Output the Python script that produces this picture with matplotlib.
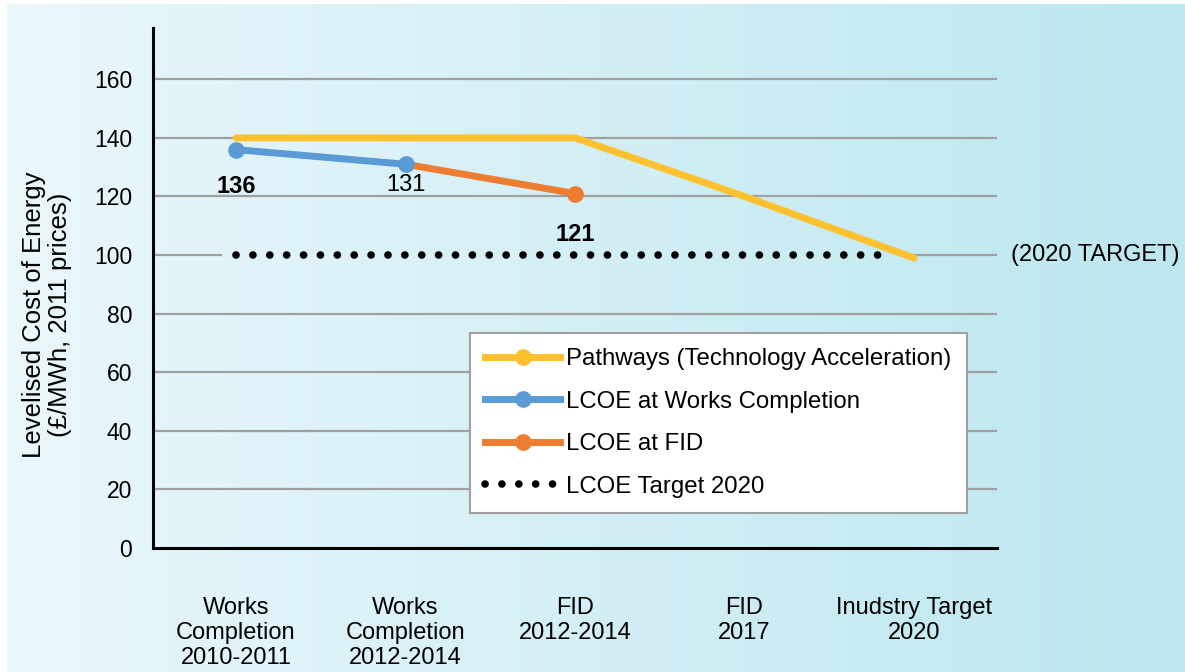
import numpy as np
import matplotlib
matplotlib.use('Agg')
import matplotlib.pyplot as plt
from matplotlib.lines import Line2D
from matplotlib.colors import LinearSegmentedColormap

plt.rcParams['font.family'] = ['Liberation Sans', 'DejaVu Sans']

# data
categories = ['Works\nCompletion\n2010-2011', 'Works\nCompletion\n2012-2014',
              'FID\n2012-2014', 'FID\n2017', 'Inudstry Target\n2020']
pathways = [140, 140, 140, 120, 99]
works_x = [0, 1]
works_vals = [136, 131]
fid_x = [1, 2]
fid_vals = [131, 121]
target_x = [0, 3.86]
target_vals = [100, 100]
yticks = [0, 20, 40, 60, 80, 100, 120, 140, 160]

c_yel = '#FDC02F'
c_blue = '#5B9BD5'
c_orng = '#ED7D31'
dots = (0, (0.01, 2.2))

fig = plt.figure(figsize=(11.85, 6.72), dpi=100)

# gradient background
bg = fig.add_axes([0.006, 0, 0.994, 0.994], zorder=-10)
cmap = LinearSegmentedColormap.from_list('bg', ['#eaf7fb', '#bce7ef'])
bg.imshow(np.linspace(0, 1, 256).reshape(1, -1), aspect='auto', cmap=cmap)
bg.axis('off')

ax = fig.add_axes([0.1291, 0.1845, 0.7123, 0.7738])
ax.patch.set_alpha(0)
ax.set_xlim(-0.49, 4.49)
ax.set_ylim(0, 177.5)

# grid lines (the 100 line is hidden behind the target dots)
for t in yticks:
    if t == 100:
        ax.hlines(t, -0.49, -0.08, color='#a0a0a0', lw=1.6, zorder=1)
        ax.hlines(t, 3.99, 4.49, color='#a0a0a0', lw=1.6, zorder=1)
    elif t > 0:
        ax.axhline(t, color='#a0a0a0', lw=1.6, zorder=1)

x = np.arange(len(categories))
ax.plot(x, pathways, color=c_yel, lw=5, solid_capstyle='round', zorder=3)
ax.plot(target_x, target_vals, color='black', lw=5.5,
        linestyle=dots, dash_capstyle='round', zorder=2)
ax.plot(fid_x, fid_vals, color=c_orng, lw=5, zorder=4)
ax.plot(fid_x[1:], fid_vals[1:], 'o', color=c_orng, ms=11, zorder=4)
ax.plot(works_x, works_vals, color=c_blue, lw=5, marker='o', ms=11, zorder=5)

ax.text(0, 123.5, '136', ha='center', va='center', fontsize=17, fontweight='bold')
ax.text(1, 124, '131', ha='center', va='center', fontsize=17)
ax.text(2, 107, '121', ha='center', va='center', fontsize=17, fontweight='bold')
ax.text(4.57, 100, '(2020 TARGET)', ha='left', va='center', fontsize=17, clip_on=False)

ax.set_yticks(yticks)
ax.set_xticks(x)
ax.set_xticklabels(categories, fontsize=17, linespacing=1.2)
ax.tick_params(axis='y', length=0, labelsize=16.5, pad=15)
ax.tick_params(axis='x', length=0, pad=35)
for s in ['top', 'right']:
    ax.spines[s].set_visible(False)
ax.spines['left'].set_linewidth(2.2)
ax.spines['bottom'].set_linewidth(2.2)
ax.set_ylabel('Levelised Cost of Energy\n(£/MWh, 2011 prices)', fontsize=18.5,
              linespacing=1.1)
ax.yaxis.set_label_coords(-0.096, 0.448)

handles = [
    Line2D([], [], color=c_yel, lw=5, marker='o', ms=11),
    Line2D([], [], color=c_blue, lw=5, marker='o', ms=11),
    Line2D([], [], color=c_orng, lw=5, marker='o', ms=11),
    Line2D([], [], color='black', lw=5.5, linestyle=dots, dash_capstyle='round'),
]
labels = ['Pathways (Technology Acceleration)', 'LCOE at Works Completion',
          'LCOE at FID', 'LCOE Target 2020']
leg = ax.legend(handles, labels, loc='lower right', bbox_to_anchor=(0.964, 0.067),
                fontsize=17.3, fancybox=False, framealpha=1, edgecolor='#a0a0a0',
                handlelength=3.1, labelspacing=0.85, handletextpad=0.25,
                borderpad=0.65, borderaxespad=0, numpoints=1)
leg.get_frame().set_linewidth(1.5)

fig.savefig('out.png', dpi=100)
